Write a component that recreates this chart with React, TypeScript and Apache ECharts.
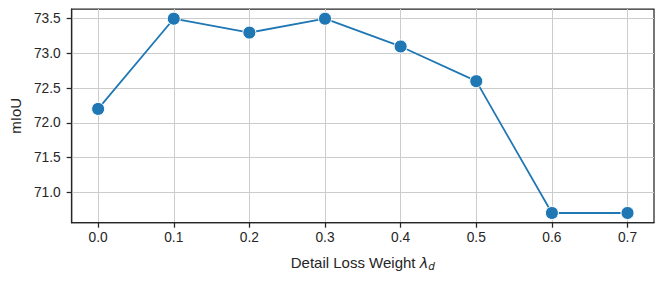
import React, { useEffect, useRef } from "react";
import * as echarts from "echarts";

const xValues = [0.0, 0.1, 0.2, 0.3, 0.4, 0.5, 0.6, 0.7];
const mIoU = [72.2, 73.5, 73.3, 73.5, 73.1, 72.6, 70.7, 70.7];
const xTicks = [0.0, 0.1, 0.2, 0.3, 0.4, 0.5, 0.6, 0.7];
const yTicks = [71.0, 71.5, 72.0, 72.5, 73.0, 73.5];

const FONT = "'Liberation Sans', Arial, sans-serif";
const DARK = "#262626";

export default function App() {
  const ref = useRef<HTMLDivElement>(null);
  useEffect(() => {
    if (!ref.current) return;
    const chart = echarts.init(ref.current, undefined, { renderer: "svg" });
    chart.setOption({
      animation: false,
      backgroundColor: "#ffffff",
      grid: {
        left: 69.5,
        top: 9,
        right: 10,
        bottom: 58.3,
        show: true,
        borderColor: DARK,
        borderWidth: 1.25,
        containLabel: false,
      },
      xAxis: {
        type: "value",
        min: -0.035,
        max: 0.735,
        name: "Detail Loss Weight {l|λ}{d|d}",
        nameLocation: "middle",
        nameGap: 31,
        nameTextStyle: {
          fontFamily: FONT,
          fontSize: 15,
          color: DARK,
          lineHeight: 18,
          rich: {
            l: { fontFamily: "'DejaVu Sans', sans-serif", fontStyle: "italic", fontSize: 14.5, color: DARK, lineHeight: 18 },
            d: { fontFamily: "'DejaVu Sans', sans-serif", fontStyle: "italic", fontSize: 10.5, color: DARK, lineHeight: 12, verticalAlign: "bottom" },
          },
        },
        axisLine: { show: true, onZero: false, lineStyle: { color: DARK, width: 1.25 } },
        axisTick: { show: true, length: 5, lineStyle: { color: DARK, width: 1.25 }, customValues: xTicks },
        axisLabel: {
          customValues: xTicks,
          formatter: (v: number) => v.toFixed(1),
          fontFamily: FONT,
          fontSize: 13.75,
          color: DARK,
          margin: 8,
        },
        splitLine: { show: true, lineStyle: { color: "#cccccc", width: 1 } },
      },
      yAxis: {
        type: "value",
        min: 70.56,
        max: 73.64,
        name: "mIoU",
        nameLocation: "middle",
        nameGap: 46,
        nameRotate: 90,
        nameTextStyle: { fontFamily: FONT, fontSize: 15, color: DARK },
        axisLine: { show: true, onZero: false, lineStyle: { color: DARK, width: 1.25 } },
        axisTick: { show: true, length: 5, lineStyle: { color: DARK, width: 1.25 }, customValues: yTicks },
        axisLabel: {
          customValues: yTicks,
          formatter: (v: number) => v.toFixed(1),
          fontFamily: FONT,
          fontSize: 13.75,
          color: DARK,
          margin: 11,
        },
        splitLine: { show: true, lineStyle: { color: "#cccccc", width: 1 } },
      },
      series: [
        {
          type: "line",
          data: xValues.map((x, i) => [x, mIoU[i]]),
          symbol: "circle",
          symbolSize: 13,
          lineStyle: { color: "#1f77b4", width: 1.8 },
          itemStyle: { color: "#1f77b4", borderColor: "#ffffff", borderWidth: 1 },
          z: 3,
        },
      ],
    });
    return () => chart.dispose();
  }, []);
  return <div ref={ref} style={{ width: 664, height: 281, position: "absolute", left: 0, top: 0 }} />;
}
